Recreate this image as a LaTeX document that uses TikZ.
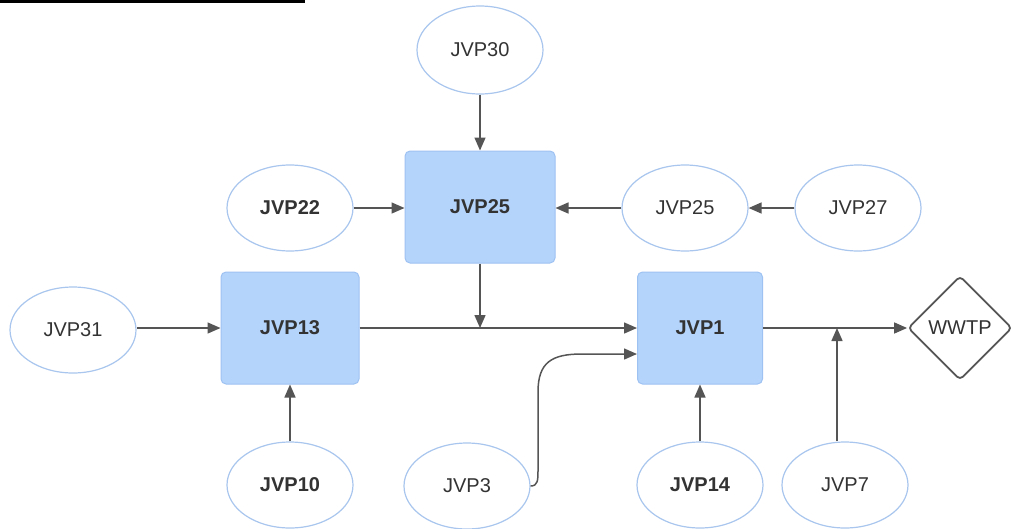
\documentclass[tikz,border=0pt]{standalone}
\usepackage{fontspec}
\newfontfamily\labfont{Liberation Sans}
\usetikzlibrary{shapes.geometric,arrows.meta,calc}
\definecolor{linkgray}{HTML}{555555}
\definecolor{boxfill}{HTML}{B5D4FB}
\definecolor{boxedge}{HTML}{9EC2F2}
\definecolor{ovaledge}{HTML}{A9C6EE}
\definecolor{textgray}{HTML}{333333}
\tikzset{
  base/.style={font=\labfont\fontsize{20}{24}\selectfont, text=textgray, inner sep=0pt},
  oval/.style={base, ellipse, draw=ovaledge, line width=1.2pt, fill=white,
    minimum width=126pt, minimum height=86pt},
  station/.style={base, rectangle, rounded corners=5pt, draw=boxedge, line width=1pt,
    fill=boxfill, minimum height=112pt, font=\labfont\bfseries\fontsize{20}{24}\selectfont},
  plant/.style={base, diamond, aspect=1, draw=linkgray, line width=1.8pt, fill=white,
    rounded corners=4pt, minimum width=104pt, minimum height=104pt},
  flow/.style={draw=linkgray, line width=1.5pt, -{Triangle[length=13pt,width=11pt]}},
  strong/.style={font=\labfont\bfseries\fontsize{20}{24}\selectfont}
}
\begin{document}
\begin{tikzpicture}[x=1pt,y=-1pt]
\useasboundingbox (0,0) rectangle (1012,528);

% heading underline
\draw[line width=2.5pt] (0,1.5) -- (305,1.5);

% pumping stations
\node[station, minimum width=150pt] (B25) at (480,207) {JVP25};
\node[station, minimum width=138pt] (B13) at (290,328) {JVP13};
\node[station, minimum width=125pt] (B1)  at (700,328) {JVP1};
\node[plant] (WWTP) at (960,328) {WWTP};

% inflows
\node[oval, minimum height=88pt] (JVP30) at (480,50) {JVP30};
\node[oval, strong] (JVP22) at (290,208) {JVP22};
\node[oval] (JVP25) at (685,208) {JVP25};
\node[oval] (JVP27) at (858,208) {JVP27};
\node[oval] (JVP31) at (73,330) {JVP31};
\node[oval, strong] (JVP10) at (290,485) {JVP10};
\node[oval] (JVP3) at (467,486) {JVP3};
\node[oval, strong] (JVP14) at (700,485) {JVP14};
\node[oval] (JVP7) at (845,485) {JVP7};

% junction points
\coordinate (j1) at (B25.south |- B13.east);
\coordinate (j2) at (837,328);
\coordinate (in3) at ($(B1.west)+(0,26)$);

% connectors
\draw[flow] (JVP30.south) -- (B25.north);
\draw[flow] (JVP22.east) -- (B25.west |- JVP22.east);
\draw[flow] (JVP25.west) -- (B25.east |- JVP25.west);
\draw[flow] (JVP27.west) -- (JVP25.east);
\draw[flow] (JVP31.east |- B13.west) -- (B13.west);
\draw[flow] (B13.east) -- (B1.west);
\draw[flow] (B25.south) -- (j1);
\draw[flow] (JVP10.north) -- (B13.south);
\draw[flow] (JVP3.east) .. controls (538,486) and (538,480) .. (538,470)
  -- (538,392) .. controls (538,362) and (552,354) .. (582,354) -- (in3);
\draw[flow] (JVP14.north) -- (B1.south);
\draw[flow] (B1.east) -- (WWTP.west);
\draw[flow] (j2 |- JVP7.north) -- (j2);
\end{tikzpicture}
\end{document}
